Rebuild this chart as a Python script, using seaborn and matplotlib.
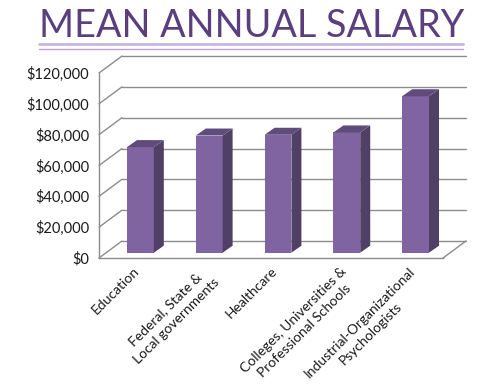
import numpy as np
import seaborn as sns
import matplotlib.pyplot as plt
from matplotlib.patches import Polygon
from matplotlib.ticker import FuncFormatter

categories = ["Education", "Federal, State &\nLocal governments", "Healthcare",
              "Colleges, Universities &\nProfessional Schools",
              "Industrial-Organizational\nPsychologists"]
salaries = [68500, 76000, 76500, 78000, 101500]
y_ticks = [0, 20000, 40000, 60000, 80000, 100000, 120000]

front_col = "#8064A2"
side_col = "#504066"
top_col = "#604C7C"
grid_col = "#8C8C8C"

sns.set_theme(style="white")
plt.rcParams['font.family'] = ['Lato', 'DejaVu Sans']

fig = plt.figure(figsize=(5, 3.9), dpi=100)
ax = fig.add_axes([99 / 500, (390 - 258) / 390, 344 / 500, 185 / 390])
ax.set_xlim(-0.5, 4.5)
ax.set_ylim(0, 120000)

# pixel -> data conversions for the fake 3d look
px_x = 5 / 344
px_y = 120000 / 185

def off(x, y, dx, dy):
    return (x + dx * px_x, y + dy * px_y)

# back wall grid + left wall diagonals
for lv in y_ticks:
    ax.plot([off(-0.5, lv, 23, 17)[0], off(4.5, lv, 23, 17)[0]],
            [off(-0.5, lv, 23, 17)[1]] * 2, color=grid_col, lw=1, clip_on=False, zorder=1)
    ax.plot([-0.5, off(-0.5, lv, 23, 17)[0]], [lv, off(-0.5, lv, 23, 17)[1]],
            color=grid_col, lw=1, clip_on=False, zorder=1)
ax.plot([4.5, off(4.5, 0, 23, 17)[0]], [0, off(4.5, 0, 23, 17)[1]],
        color=grid_col, lw=1, clip_on=False, zorder=1)

sns.barplot(x=list(range(len(categories))), y=salaries, color=front_col,
            saturation=1, width=0.39, ax=ax, zorder=3)

# shift bars into depth, add side and top faces
for p in ax.patches:
    p.set_x(p.get_x() + 7 * px_x)
    p.set_y(p.get_y() + 5.3 * px_y)
    p.set_linewidth(0)
    x0 = p.get_x()
    x1 = x0 + p.get_width()
    y0 = p.get_y()
    y1 = y0 + p.get_height()
    side = [(x1, y0), (x1, y1), off(x1, y1, 10, 7), off(x1, y0, 10, 7)]
    top = [(x0, y1), (x1, y1), off(x1, y1, 10, 7), off(x0, y1, 10, 7)]
    ax.add_patch(Polygon(side, closed=True, facecolor=side_col, lw=0, zorder=3))
    ax.add_patch(Polygon(top, closed=True, facecolor=top_col, lw=0, zorder=3))

ax.set_yticks(y_ticks)
ax.yaxis.set_major_formatter(FuncFormatter(lambda v, _: "${:,.0f}".format(v)))
ax.set_xticks(np.arange(-0.5, 5.0, 1.0), minor=False)
ax.set_xticklabels([])
ax.set_xticks(range(len(categories)), minor=True)
ax.set_xticklabels(categories, minor=True, rotation=45, ha="right",
                   rotation_mode="anchor", multialignment="center", fontsize=10,
                   linespacing=1.35, color="#1a1a1a")
ax.tick_params(axis="x", which="minor", length=0, pad=5)
ax.tick_params(axis="x", which="major", length=4, color=grid_col, direction="out")
ax.tick_params(axis="y", length=4, color=grid_col, direction="out", labelsize=10.5,
               pad=3, labelcolor="#1a1a1a")
ax.set_xlabel("")
ax.set_ylabel("")
for s in ["top", "right"]:
    ax.spines[s].set_visible(False)
for s in ["left", "bottom"]:
    ax.spines[s].set_color(grid_col)
    ax.spines[s].set_linewidth(1)
ax.set_facecolor("none")

fig.text(0.504, 1 - 37 / 390, "MEAN ANNUAL SALARY", ha="center", va="baseline",
         fontsize=27.2, color="#5A3E7D", fontweight="normal")
fig.add_artist(plt.Line2D([39 / 500, 463 / 500], [1 - 43.5 / 390] * 2,
                          color="#C9B6E2", lw=2))
fig.add_artist(plt.Line2D([39 / 500, 463 / 500], [1 - 48.5 / 390] * 2,
                          color="#B9A2D6", lw=1))

fig.savefig("out.png", dpi=100)
